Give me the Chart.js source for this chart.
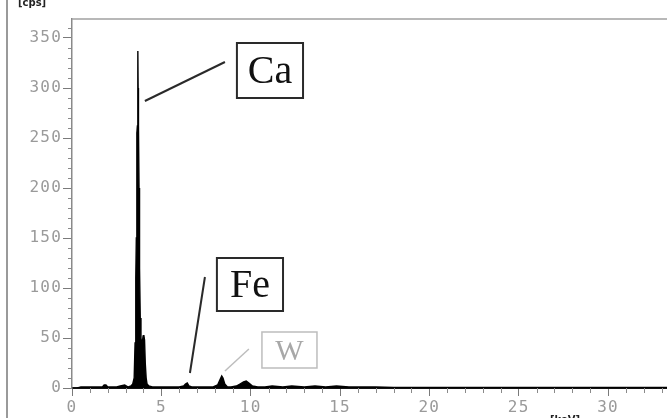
<!DOCTYPE html>
<html>
<head>
<meta charset="utf-8">
<script src="https://cdn.jsdelivr.net/npm/chart.js@4/dist/chart.umd.min.js"></script>
<style>
  html, body { margin: 0; padding: 0; background: #fff; }
  #wrap { position: relative; width: 667px; height: 418px; overflow: hidden; }
  #marco { position: absolute; left: 6px; top: 0; width: 2px; height: 418px; background: #9a9a9a; }
</style>
</head>
<body>
<div id="wrap">
  <div id="marco"></div>
  <canvas id="grafico" width="667" height="418"></canvas>
</div>
<script>
// espectro EDS: energia [keV] y cuentas [cps]
var energia = [0.3, 0.5, 1.0, 1.5, 1.7, 1.8, 1.9, 2.0, 2.5, 2.7, 2.95, 3.05, 3.15, 3.3, 3.4, 3.48,
    3.53, 3.57, 3.6, 3.63, 3.66, 3.68, 3.69, 3.70, 3.72, 3.75, 3.78, 3.82, 3.86, 3.9, 3.95, 3.98,
    4.02, 4.06, 4.1, 4.15, 4.2, 4.3, 4.5, 5.0, 5.5, 6.0, 6.25, 6.35, 6.45, 6.55, 6.7, 7.0, 7.5,
    7.9, 8.15, 8.3, 8.38, 8.45, 8.55, 8.7, 8.9, 9.2, 9.4, 9.6, 9.75, 9.9, 10.1, 10.4, 10.8,
    11.2, 11.8, 12.3, 13.0, 13.6, 14.2, 14.8, 15.5, 16.2, 17.0, 18.0, 20.0, 25.0, 30.0, 33.5];
var cuentas = [0, 1, 1, 1, 1, 3, 3, 1, 1, 2, 3, 2, 1, 2, 4, 10,
    45, 110, 150, 255, 262, 300, 337, 300, 262, 200, 120, 70, 50, 44, 48, 52,
    53, 48, 25, 10, 4, 2, 1, 1, 1, 1, 2, 4, 5, 2, 1, 1, 1,
    1, 3, 9, 12, 10, 4, 1, 1, 2, 4, 6, 7, 5, 2, 1, 1,
    2, 1, 2, 1, 2, 1, 2, 1, 1, 1, 0.5, 0.5, 0.5, 0.5, 0.5];

var ticksX = [0, 5, 10, 15, 20, 25, 30];
var ticksY = [0, 50, 100, 150, 200, 250, 300, 350];
var EJE_X_MAX = 33.3;
var EJE_Y_MAX = 369;

// recuadros de los elementos, en unidades de datos [keV, cps]
var elementos = ["Ca", "Fe", "W"];
var recuadros = [[9.23, 345, 12.93, 290], [8.11, 130, 11.81, 77], [10.63, 56, 13.71, 20]];
var guias = [[4.08, 287, 8.56, 326], [7.44, 111, 6.60, 15], [9.90, 39, 8.56, 17]];

var GRIS_TXT = "#9a9a9a";

var puntos = energia.map(function (e, i) { return { x: e, y: cuentas[i] }; });

// las etiquetas de los ejes del original van mas espaciadas
var espaciado = {
    id: "espaciado",
    beforeDraw: function (chart) { chart.ctx.letterSpacing = "1.2px"; }
};

var decoracion = {
    id: "decoracion",
    afterDraw: function (chart) {
        var ctx = chart.ctx;
        var sx = chart.scales.x, sy = chart.scales.y, area = chart.chartArea;
        ctx.save();
        ctx.letterSpacing = "0px";
        // marco superior
        ctx.strokeStyle = "#a0a0a0";
        ctx.lineWidth = 1.5;
        ctx.beginPath();
        ctx.moveTo(area.left, area.top);
        ctx.lineTo(area.right, area.top);
        ctx.stroke();
        // ticks menores
        ctx.strokeStyle = "#8a8a8a";
        ctx.lineWidth = 1;
        var v, p;
        for (v = 10; v <= EJE_Y_MAX; v += 10) {
            if (v % 50 === 0) { continue; }
            p = Math.round(sy.getPixelForValue(v)) + 0.5;
            ctx.beginPath();
            ctx.moveTo(area.left - 4, p);
            ctx.lineTo(area.left, p);
            ctx.stroke();
        }
        for (v = 1; v <= EJE_X_MAX; v += 1) {
            if (v % 5 === 0) { continue; }
            p = Math.round(sx.getPixelForValue(v)) + 0.5;
            ctx.beginPath();
            ctx.moveTo(p, area.bottom);
            ctx.lineTo(p, area.bottom + 5);
            ctx.stroke();
        }
        // unidades
        ctx.fillStyle = "#222";
        ctx.font = "bold 10px 'DejaVu Sans'";
        ctx.textAlign = "left";
        ctx.textBaseline = "alphabetic";
        ctx.fillText("[cps]", 18, 6);
        ctx.fillText("[keV]", 550, 423);
        // etiquetas de elementos
        elementos.forEach(function (nombre, i) {
            var r = recuadros[i], g = guias[i];
            var claro = nombre === "W";
            var x1 = sx.getPixelForValue(r[0]), y1 = sy.getPixelForValue(r[1]);
            var x2 = sx.getPixelForValue(r[2]), y2 = sy.getPixelForValue(r[3]);
            ctx.strokeStyle = claro ? "#bdbdbd" : "#2a2a2a";
            ctx.lineWidth = claro ? 1.5 : 2;
            ctx.strokeRect(x1, y1, x2 - x1, y2 - y1);
            ctx.beginPath();
            ctx.moveTo(sx.getPixelForValue(g[0]), sy.getPixelForValue(g[1]));
            ctx.lineTo(sx.getPixelForValue(g[2]), sy.getPixelForValue(g[3]));
            ctx.stroke();
            ctx.fillStyle = claro ? "#a8a8a8" : "#111";
            ctx.font = (claro ? "30px" : "40px") + " 'Liberation Serif'";
            ctx.textAlign = "center";
            ctx.textBaseline = "middle";
            ctx.fillText(nombre, (x1 + x2) / 2, (y1 + y2) / 2 + 2);
        });
        ctx.restore();
    }
};

new Chart(document.getElementById("grafico").getContext("2d"), {
    type: "line",
    data: {
        datasets: [{
            data: puntos,
            borderColor: "#000",
            backgroundColor: "#000",
            borderWidth: 1.4,
            fill: "origin",
            pointRadius: 0,
            tension: 0
        }]
    },
    options: {
        responsive: false,
        animation: false,
        layout: { padding: { top: 19, right: 0, left: 0, bottom: 0 } },
        plugins: { legend: { display: false }, tooltip: { enabled: false } },
        scales: {
            x: {
                type: "linear",
                min: 0,
                max: EJE_X_MAX,
                afterBuildTicks: function (s) { s.ticks = ticksX.map(function (v) { return { value: v }; }); },
                afterFit: function (s) { s.height = 30; },
                border: { color: "#111", width: 2 },
                grid: { drawOnChartArea: false, drawTicks: true, tickLength: 8, tickColor: "#7a7a7a" },
                ticks: { color: GRIS_TXT, padding: 2, maxRotation: 0, font: { family: "'DejaVu Sans Mono'", size: 16 } }
            },
            y: {
                min: 0,
                max: EJE_Y_MAX,
                afterBuildTicks: function (s) { s.ticks = ticksY.map(function (v) { return { value: v }; }); },
                afterFit: function (s) { s.width = 72; },
                border: { color: "#8a8a8a", width: 1.5 },
                grid: { drawOnChartArea: false, drawTicks: true, tickLength: 9, tickColor: "#7a7a7a" },
                ticks: { color: GRIS_TXT, padding: 1, font: { family: "'DejaVu Sans Mono'", size: 16 } }
            }
        }
    },
    plugins: [espaciado, decoracion]
});
</script>
</body>
</html>
